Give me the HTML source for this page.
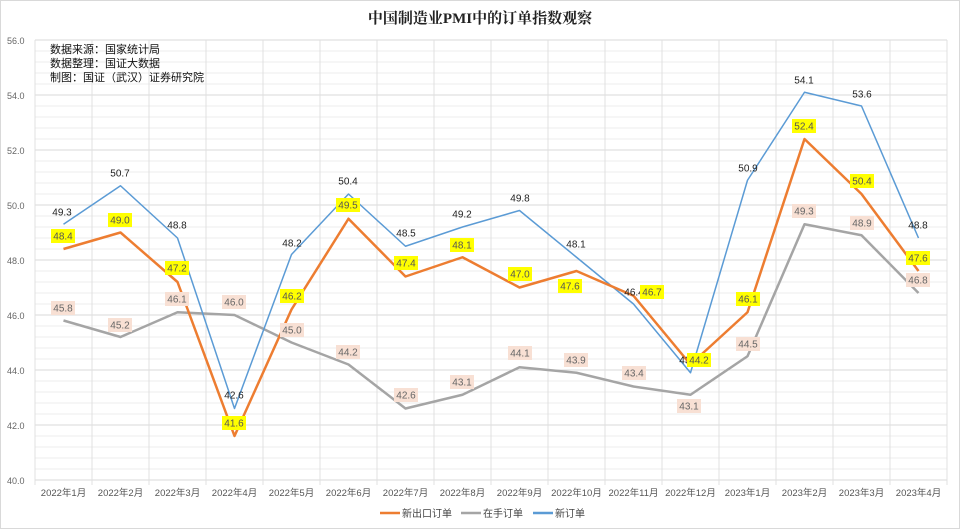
<!DOCTYPE html>
<html><head><meta charset="utf-8"><style>
body{margin:0;background:#fff}
svg{display:block;font-family:"Liberation Sans","Noto Sans CJK SC",sans-serif}
</style></head><body>
<svg id="s" width="960" height="529" xmlns="http://www.w3.org/2000/svg">
<rect x="0.5" y="0.5" width="959" height="528" fill="#fff" stroke="#d9d9d9"/>
<text x="480" y="23" text-anchor="middle" font-size="15" font-weight="bold" font-family="Liberation Serif,Noto Serif CJK SC,serif" fill="#222">中国制造业PMI中的订单指数观察</text>
<g id="grid"></g>
<g font-size="11" fill="#111">
<text x="50" y="53">数据来源：国家统计局</text>
<text x="50" y="67">数据整理：国证大数据</text>
<text x="50" y="81">制图：国证（武汉）证券研究院</text>
</g>
<g id="series"></g>
<g id="labels" font-size="10" text-anchor="middle"></g>
<g font-size="10" fill="#444">
<line x1="380" y1="513" x2="400" y2="513" stroke="#ed7d31" stroke-width="2.5"/><text x="402" y="517">新出口订单</text>
<line x1="461" y1="513" x2="481" y2="513" stroke="#a5a5a5" stroke-width="2.5"/><text x="483" y="517">在手订单</text>
<line x1="533" y1="513" x2="553" y2="513" stroke="#5b9bd5" stroke-width="2.5"/><text x="555" y="517">新订单</text>
</g>
</svg>
<script>
const NS="http://www.w3.org/2000/svg";
function el(p,t,a,txt){const e=document.createElementNS(NS,t);for(const k in a)e.setAttribute(k,a[k]);if(txt!==undefined)e.textContent=txt;p.appendChild(e);return e;}
const Y=v=>480-(v-40)*27.5, X=i=>63.5+57*i;
const g=document.getElementById('grid');
for(let v=40;v<=56.001;v+=0.4){const y=Y(v);const major=Math.abs(v/2-Math.round(v/2))<0.01;
el(g,'line',{x1:35,x2:947,y1:y,y2:y,stroke:major?'#d9d9d9':'#ececec','stroke-width':1});
if(major)el(g,'text',{x:7,y:y+4,'font-size':9,fill:'#666'},v.toFixed(1));}
for(let i=0;i<=16;i++){const x=35+57*i;el(g,'line',{x1:x,x2:x,y1:40,y2:485,stroke:'#e0e0e0'});}
const months=[];for(let i=1;i<=12;i++)months.push('2022年'+i+'月');for(let i=1;i<=4;i++)months.push('2023年'+i+'月');
months.forEach((m,i)=>el(g,'text',{x:X(i),y:496,'font-size':9.5,fill:'#555','text-anchor':'middle'},m));
const o=[48.4,49.0,47.2,41.6,46.2,49.5,47.4,48.1,47.0,47.6,46.7,44.2,46.1,52.4,50.4,47.6];
const gr=[45.8,45.2,46.1,46.0,45.0,44.2,42.6,43.1,44.1,43.9,43.4,43.1,44.5,49.3,48.9,46.8];
const b=[49.3,50.7,48.8,42.6,48.2,50.4,48.5,49.2,49.8,48.1,46.4,43.9,50.9,54.1,53.6,48.8];
const s=document.getElementById('series');
[[gr,'#a5a5a5'],[b,'#5b9bd5'],[o,'#ed7d31']].forEach(([d,c])=>el(s,'polyline',{points:d.map((v,i)=>X(i)+','+Y(v)).join(' '),fill:'none',stroke:c,'stroke-width':c=='#5b9bd5'?1.5:2.5,'stroke-linejoin':'round'}));
const L=document.getElementById('labels');
const ol=[[63,236],[120,220],[177,268],[234,423],[292,296],[348,205],[406,263],[462,245],[520,274],[570,286],[652,292],[699,360],[748,299],[804,126],[862,181],[918,258]];
const gl=[[63,308],[120,325],[177,299],[234,302],[292,330],[348,352],[406,395],[462,382],[520,353],[576,360],[634,373],[689,406],[748,344],[804,211],[862,223],[918,280]];
const bl=[[62,212],[120,173],[177,225],[234,395],[292,243],[348,181],[406,233],[462,214],[520,198],[576,244],[634,292],[689,360],[748,168],[804,80],[862,94],[918,225]];
gl.forEach(([x,y],i)=>{el(L,'rect',{x:x-12,y:y-7,width:24,height:14,fill:'#f8e0d4'});el(L,'text',{x:x,y:y+3.5,fill:'#666'},gr[i].toFixed(1));});
bl.forEach(([x,y],i)=>{el(L,'text',{x:x,y:y+3.5,fill:'#222'},b[i].toFixed(1));});
ol.forEach(([x,y],i)=>{el(L,'rect',{x:x-12,y:y-7,width:24,height:14,fill:'#ffff00'});el(L,'text',{x:x,y:y+3.5,fill:'#555'},o[i].toFixed(1));});
</script>
</body></html>
